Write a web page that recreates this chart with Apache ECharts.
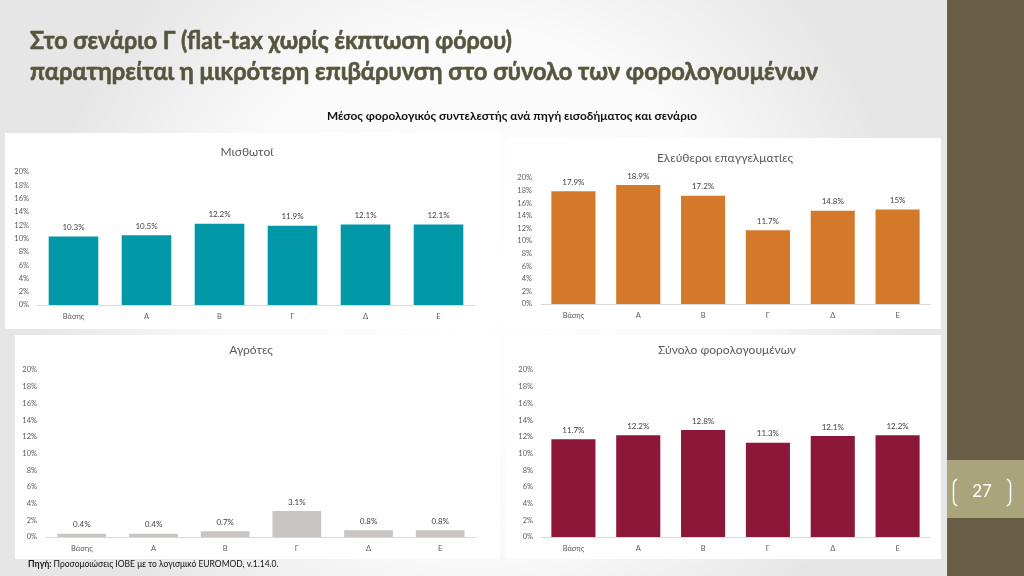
<!DOCTYPE html>
<html>
<head>
<meta charset="utf-8">
<script src="https://cdn.jsdelivr.net/npm/echarts@6/dist/echarts.min.js"></script>
<style>
html,body{margin:0;padding:0;width:1024px;height:576px;overflow:hidden;background:#fff;}
#c{width:1024px;height:576px;}
</style>
</head>
<body>
<div id="c"></div>
<script>
const categories = ['Βάσης', 'Α', 'Β', 'Γ', 'Δ', 'Ε'];
const misthotoi = [10.3, 10.5, 12.2, 11.9, 12.1, 12.1];
const eleftheroi = [17.9, 18.9, 17.2, 11.7, 14.8, 15];
const agrotes = [0.4, 0.4, 0.7, 3.1, 0.8, 0.8];
const synolo = [11.7, 12.2, 12.8, 11.3, 12.1, 12.2];
const panelTitles = ['Μισθωτοί', 'Ελεύθεροι επαγγελματίες', 'Αγρότες', 'Σύνολο φορολογουμένων'];
const mainTitle1 = 'Στο σενάριο Γ (flat-tax χωρίς έκπτωση φόρου)';
const mainTitle2 = 'παρατηρείται η μικρότερη επιβάρυνση στο σύνολο των φορολογουμένων';
const subTitle = 'Μέσος φορολογικός συντελεστής ανά πηγή εισοδήματος και σενάριο';
const sourceBold = 'Πηγή:';
const sourceText = ' Προσομοιώσεις ΙΟΒΕ με το λογισμικό EUROMOD, v.1.14.0.';
const pageNum = '27';

const FONT = 'Lato, "Open Sans", sans-serif';
const TXT = '#595959';

// text measuring for condensed headline
const mctx = document.createElement('canvas').getContext('2d');
function measure(text, font) { mctx.font = font; return mctx.measureText(text).width; }
const TITLE_FONT = 'bold 25px Lato, sans-serif';
const titleScale1 = 482 / measure(mainTitle1, TITLE_FONT);
const titleScale2 = 788 / measure(mainTitle2, TITLE_FONT);
const SUB_FONT = 'bold 11px Lato, sans-serif';
const subScale = 370 / measure(subTitle, SUB_FONT);

const grids = [
  {left: 37, top: 172, width: 438, height: 133},
  {left: 541, top: 178, width: 389, height: 126},
  {left: 46, top: 370, width: 430, height: 167},
  {left: 541, top: 370, width: 389, height: 167}
];
const labelMargins = [8, 9, 9, 8];
const seriesData = [misthotoi, eleftheroi, agrotes, synolo];
const seriesColors = ['#0098a6', '#d4782a', '#c8c5c3', '#8c1739'];
const titlePos = [[247, 152], [725, 158], [251, 350], [727, 350]];
const TITLE_COLOR = '#56563f';

const chart = echarts.init(document.getElementById('c'), null, {renderer: 'canvas'});

const option = {
  animation: false,
  textStyle: {fontFamily: FONT},
  graphic: [
    {type: 'rect', z: -10, shape: {x: 0, y: 0, width: 947, height: 576},
     style: {fill: new echarts.graphic.RadialGradient(0.5, 0.5, 0.75, [
       {offset: 0, color: '#ffffff'}, {offset: 0.6, color: '#fafafa'}, {offset: 1, color: '#e6e6e6'}])}},
    {type: 'rect', z: -9, shape: {x: 5, y: 133, width: 495, height: 196}, style: {fill: '#ffffff'}},
    {type: 'rect', z: -9, shape: {x: 505, y: 138, width: 436, height: 191}, style: {fill: '#ffffff'}},
    {type: 'rect', z: -9, shape: {x: 15, y: 335, width: 485, height: 224}, style: {fill: '#ffffff'}},
    {type: 'rect', z: -9, shape: {x: 505, y: 335, width: 436, height: 224}, style: {fill: '#ffffff'}},
    {type: 'rect', z: -5, shape: {x: 947, y: 0, width: 77, height: 576}, style: {fill: '#6b5e46'}},
    {type: 'rect', z: -4, shape: {x: 947, y: 460, width: 77, height: 58}, style: {fill: '#a9a47c'}},
    {type: 'text', x: 982, y: 492, style: {text: pageNum, fill: '#ffffff', font: '17px ' + FONT, align: 'center', verticalAlign: 'middle'}},
    {type: 'polyline', shape: {points: [[957, 479], [954.5, 481], [953.5, 484], [953.5, 501], [954.5, 504], [957, 506]]},
     style: {fill: null, stroke: '#ffffff', lineWidth: 1.5}},
    {type: 'polyline', shape: {points: [[1007, 479], [1009.5, 481], [1010.5, 484], [1010.5, 501], [1009.5, 504], [1007, 506]]},
     style: {fill: null, stroke: '#ffffff', lineWidth: 1.5}},
    {type: 'text', x: 30, y: 41, scaleX: titleScale1, style: {text: mainTitle1, fill: TITLE_COLOR, stroke: TITLE_COLOR, lineWidth: 0.6,
      x: 0, y: 0, verticalAlign: 'middle', font: TITLE_FONT}},
    {type: 'text', x: 30, y: 72, scaleX: titleScale2, style: {text: mainTitle2, fill: TITLE_COLOR, stroke: TITLE_COLOR, lineWidth: 0.6,
      x: 0, y: 0, verticalAlign: 'middle', font: TITLE_FONT}},
    {type: 'text', x: 327, y: 116, scaleX: subScale, style: {text: subTitle, fill: '#111111', x: 0, y: 0,
      verticalAlign: 'middle', font: SUB_FONT}},
    {type: 'text', left: 28, top: 560, style: {rich: {
      b: {fontWeight: 'bold', fontSize: 8.5, fill: '#111', fontFamily: FONT},
      n: {fontSize: 8.5, fill: '#111', fontFamily: FONT}}, text: '{b|' + sourceBold + '}{n|' + sourceText + '}'}}
  ].concat(panelTitles.map((t, i) => ({
    type: 'text', x: titlePos[i][0], y: titlePos[i][1],
    style: {text: t, fill: TXT, align: 'center', verticalAlign: 'middle', font: '12px ' + FONT}
  }))),
  grid: grids,
  xAxis: grids.map((g, i) => ({
    type: 'category', gridIndex: i, data: categories,
    axisLine: {lineStyle: {color: '#d9d9d9'}},
    axisTick: {show: false},
    axisLabel: {color: TXT, fontSize: 7.5, margin: 8}
  })),
  yAxis: grids.map((g, i) => ({
    type: 'value', gridIndex: i, min: 0, max: 20, interval: 2,
    axisLine: {show: false}, axisTick: {show: false}, splitLine: {show: false},
    axisLabel: {color: TXT, fontSize: 7.5, margin: labelMargins[i], formatter: '{value}%'}
  })),
  series: seriesData.map((d, i) => ({
    type: 'bar', xAxisIndex: i, yAxisIndex: i, data: d,
    barCategoryGap: '32%',
    itemStyle: {color: seriesColors[i]},
    label: {show: true, position: 'top', distance: 5, color: '#404040', fontSize: 8, formatter: p => p.value + '%'}
  }))
};
chart.setOption(option);
</script>
</body>
</html>
